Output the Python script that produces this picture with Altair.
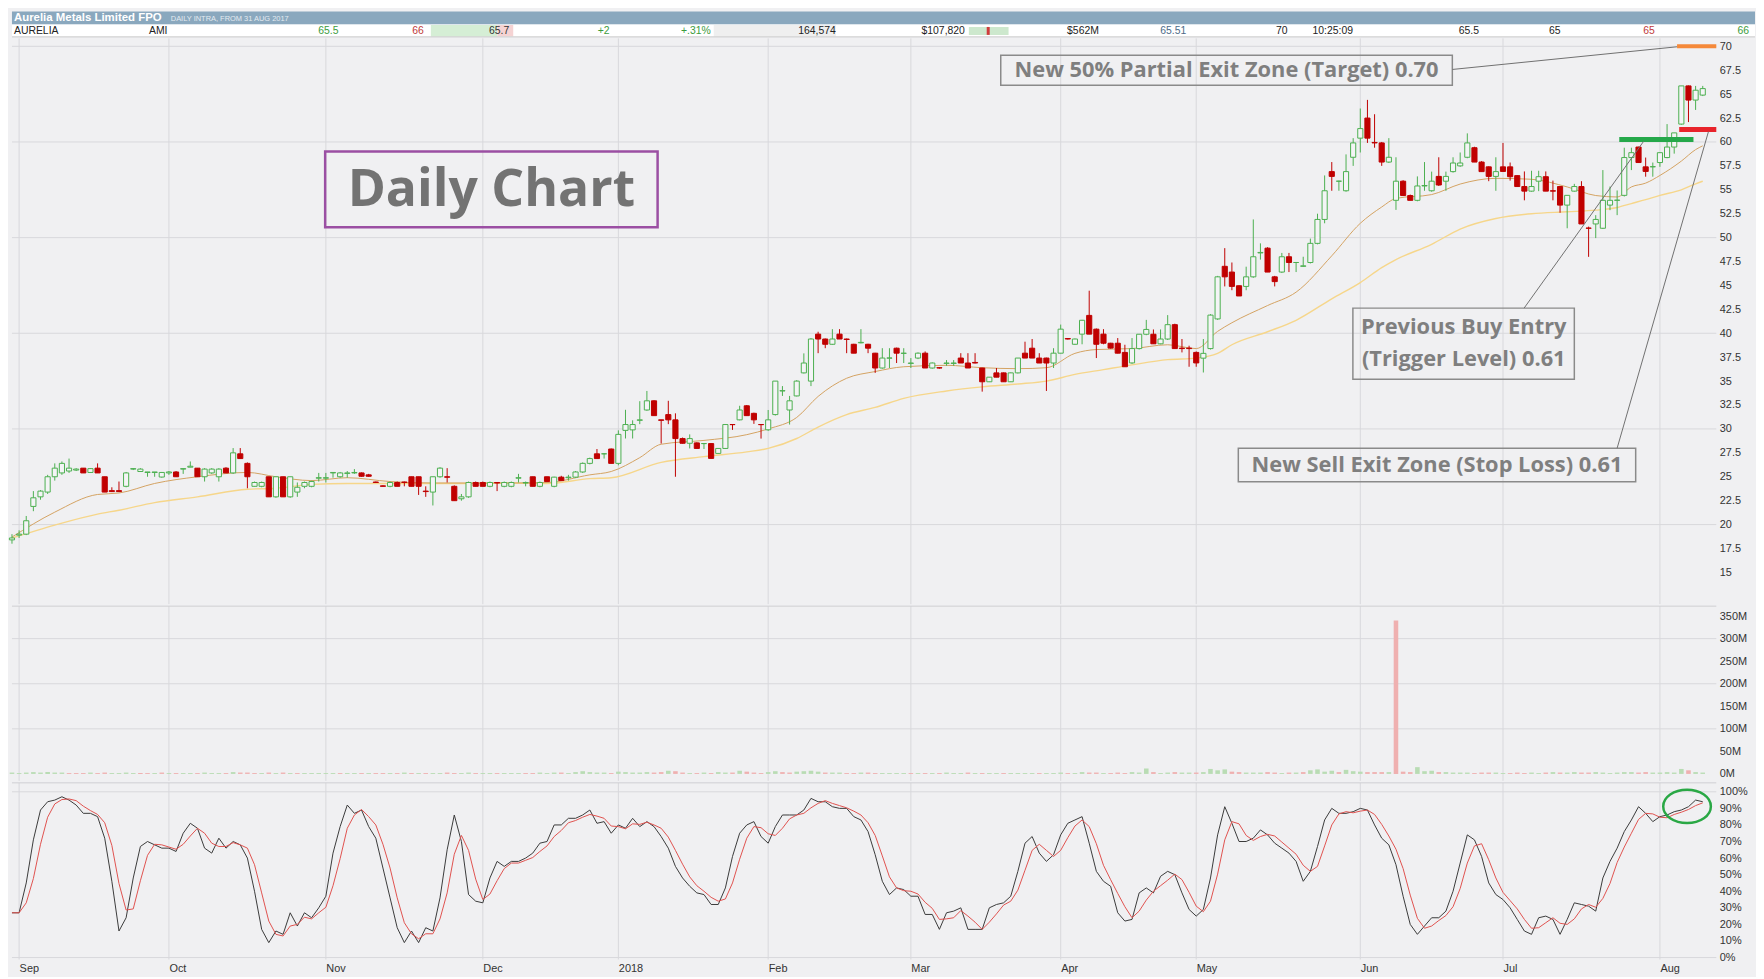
import altair as alt
import pandas as pd

# ------------------------------------------------------------------ data
month_labels = ["Sep", "Oct", "Nov", "Dec", "2018", "Feb", "Mar", "Apr", "May", "Jun", "Jul", "Aug"]
month_start = [1, 22, 44, 66, 85, 106, 126, 147, 166, 189, 209, 231]

# daily candles [open, high, low, close] in cents (first row = 31 Aug 2017)
sep_ohlc = [[18.4,19.0,18.0,18.6],[18.9,19.4,18.6,19.0],[19.0,20.9,18.9,20.4],[21.9,23.5,21.4,22.8],[22.9,23.6,22.6,23.5],
            [23.4,25.2,23.2,25.0],[25.0,26.4,24.6,25.9],[25.4,26.6,25.2,26.4],[25.6,26.9,25.4,25.9],[25.7,25.9,25.6,25.8],
            [25.9,25.9,25.4,25.4],[25.45,25.9,25.4,25.85],[25.9,26.4,25.4,25.4],[25.0,25.0,23.4,23.4],[23.55,23.9,23.4,23.45],
            [23.55,24.5,23.4,23.45],[24.0,25.5,23.9,25.4],[25.8,25.9,25.7,25.85],[25.55,25.9,25.5,25.8],[25.45,25.5,25.0,25.5],
            [25.45,25.5,25.0,25.5],[24.97,25.5,24.9,25.45]]
oct_ohlc = [[25.4,25.6,25.2,25.5],[25.5,25.6,25.0,25.0],[25.8,25.85,25.3,25.85],[26.0,26.6,26.0,26.1],[25.9,25.9,25.0,25.0],
            [25.0,25.9,24.5,25.8],[25.4,25.9,25.3,25.8],[25.0,25.9,24.5,25.8],[25.9,26.0,25.4,25.4],[25.4,28.0,25.3,27.5],
            [27.4,28.0,26.9,26.9],[26.4,26.5,23.8,25.0],[24.0,24.5,24.0,24.4],[24.0,24.5,23.9,24.4],[25.0,25.0,22.9,22.9],
            [22.9,25.0,22.8,25.0],[25.0,25.0,22.9,22.9],[22.9,25.0,22.8,25.0],[23.4,24.4,22.9,23.9],[24.0,24.5,23.8,24.4],
            [24.0,24.6,23.9,24.5],[24.85,25.4,24.5,24.9]]
nov_ohlc = [[24.85,25.4,24.4,24.9],[25.4,25.45,24.9,25.45],[25.0,25.5,24.9,25.4],[25.35,25.6,24.9,25.4],[25.4,25.8,25.3,25.45],
            [25.4,25.45,25.0,25.05],[25.2,25.3,25.0,25.05],[24.45,24.5,24.4,24.4],[24.05,24.1,24.0,24.0],[24.0,24.5,23.9,24.4],
            [24.4,24.5,24.0,24.0],[24.45,24.5,24.0,24.4],[25.0,25.0,24.0,24.0],[25.0,25.0,23.1,24.0],[23.5,24.0,22.9,23.45],
            [23.4,25.0,22.0,25.0],[25.0,26.0,24.9,25.9],[25.0,25.9,24.4,24.95],[24.0,24.1,22.5,22.5],[22.7,23.2,22.5,22.9],
            [22.9,24.5,22.8,24.4],[24.4,24.5,24.0,24.0]]
dec_ohlc = [[24.4,24.5,24.0,24.0],[24.0,24.5,23.9,24.4],[24.4,24.45,23.5,24.35],[24.0,24.5,23.9,24.4],[24.0,24.5,23.9,24.4],
            [24.85,25.3,24.4,24.9],[24.35,24.5,24.0,24.4],[25.0,25.0,24.0,24.0],[24.0,24.5,23.9,24.4],[25.0,25.0,24.5,24.5],
            [24.0,25.0,23.9,24.96],[24.96,25.1,24.6,24.6],[24.9,25.2,24.6,24.96],[24.96,25.6,24.9,25.5],[25.5,26.5,25.4,26.4],
            [26.4,27.0,26.3,26.9],[27.4,27.9,26.9,26.9],[27.4,27.45,26.9,27.4],[27.9,27.95,26.4,26.4]]
jan_ohlc = [[26.4,29.85,26.2,29.43],[29.85,32.0,29.0,30.46],[29.9,30.9,29.0,30.46],[30.9,32.9,30.5,30.95],[31.98,33.97,31.9,32.94],
            [32.94,33.0,31.39,31.39],[30.95,30.95,28.47,30.9],[31.5,32.94,30.5,30.95],[30.95,31.63,25.0,28.99],[28.99,29.1,28.47,28.5],
            [28.5,29.43,27.96,28.99],[28.54,28.6,27.96,27.96],[28.47,28.5,27.9,28.47],[28.47,28.5,26.92,26.92],[27.44,28.0,27.4,27.96],
            [27.96,30.5,27.9,30.46],[30.46,30.5,29.9,30.45],[30.95,32.42,30.9,31.98],[32.42,32.5,31.39,31.39],[31.63,31.7,30.53,30.95],
            [30.46,30.5,28.99,30.45]]
feb_ohlc = [[29.91,31.98,29.8,30.95],[31.5,35.0,31.4,35.0],[33.97,34.48,33.45,34.0],[31.98,33.45,30.46,32.94],[33.45,35.1,33.4,35.0],
            [35.86,37.9,35.8,36.89],[35.0,39.5,34.48,39.4],[39.91,40.16,37.92,39.4],[39.4,39.45,38.44,38.85],[38.85,40.43,38.8,39.4],
            [39.91,40.43,39.4,39.4],[39.4,39.45,37.92,39.35],[38.85,38.9,37.92,37.92],[39.0,40.43,38.95,39.05],[38.85,38.9,37.92,38.44],
            [37.92,37.95,35.86,36.37],[36.37,38.44,36.3,37.41],[37.4,38.44,36.37,37.42],[38.44,38.5,36.89,37.92],[37.9,38.44,36.89,37.92]]
mar_ohlc = [[36.85,37.41,36.37,36.89],[37.41,38.0,37.3,37.92],[37.92,38.1,36.37,36.37],[36.37,36.95,36.3,36.89],[36.4,36.45,36.3,36.37],
            [36.85,37.2,36.6,36.89],[36.85,37.2,36.6,36.89],[37.41,37.92,36.89,36.89],[36.89,37.92,36.37,36.37],[36.95,37.92,36.85,36.89],
            [36.37,36.4,33.9,34.93],[34.93,35.41,34.9,35.41],[35.86,36.37,35.41,35.41],[35.86,35.9,34.93,34.93],[34.93,35.9,34.9,35.86],
            [35.86,37.41,35.8,37.41],[37.92,39.12,37.41,37.41],[38.44,39.4,37.41,37.41],[37.41,37.92,36.89,36.89],[37.41,37.45,33.97,36.89],
            [36.89,38.44,36.37,37.92]]
apr_ohlc = [[37.92,40.91,37.9,40.43],[39.45,39.5,39.35,39.4],[38.85,39.45,38.8,39.4],[39.91,41.4,38.85,41.36],[41.87,44.45,39.91,39.91],
            [40.43,40.5,37.41,38.85],[39.91,40.43,38.85,38.96],[38.96,39.0,38.4,38.45],[38.96,39.5,37.9,37.92],[38.0,38.8,36.5,36.5],
            [36.9,39.5,36.8,38.4],[38.4,39.9,38.3,39.9],[39.9,41.4,39.8,40.4],[39.9,40.4,38.9,38.9],[38.9,40.4,38.85,39.4],
            [39.4,41.9,39.3,40.9],[40.9,41.0,38.4,38.4],[38.45,39.4,38.0,38.4],[38.45,38.7,36.5,38.4]]
may_ohlc = [[38.0,38.1,36.5,36.9],[37.4,39.4,35.9,37.9],[38.4,42.0,38.3,41.9],[41.5,46.0,41.4,45.9],[47.0,48.9,44.9,45.9],
            [46.4,47.4,44.5,44.9],[44.97,45.0,43.9,43.9],[44.9,46.96,44.5,45.9],[45.9,51.9,45.8,48.0],[48.4,49.4,47.7,48.45],
            [48.9,49.0,46.4,46.4],[45.9,46.0,44.9,45.4],[46.4,48.4,46.3,48.0],[48.0,48.4,46.4,47.4],[47.4,47.45,46.4,47.4],
            [47.0,48.0,46.95,47.05],[47.4,49.9,47.3,49.4],[49.4,52.5,49.3,51.9],[51.9,56.5,51.5,54.9],[56.9,57.9,54.9,56.4],
            [55.9,55.95,54.9,55.9],[54.9,58.7,54.8,56.9],[58.4,60.4,57.5,59.9]]
jun_ohlc = [[60.4,63.5,58.9,61.4],[62.5,64.4,59.9,60.4],[59.95,62.9,59.4,59.9],[59.9,60.0,57.5,57.9],[57.9,60.4,57.8,58.4],
            [53.9,58.4,52.9,55.9],[55.9,56.0,54.4,54.4],[54.4,54.5,53.9,53.9],[53.9,56.4,53.8,55.4],[55.4,57.9,54.9,55.45],
            [54.9,56.9,54.8,55.9],[56.4,58.4,55.4,55.5],[55.9,56.9,54.9,56.4],[56.9,58.4,56.8,57.8],[57.5,58.9,57.4,57.8],
            [58.4,60.9,58.3,59.9],[59.4,59.5,57.9,57.9],[57.9,58.0,56.9,56.9],[57.4,57.45,55.9,56.4],[56.4,58.4,54.9,56.9]]
jul_ohlc = [[57.4,59.9,56.9,56.92],[57.4,57.85,55.96,56.37],[56.48,56.5,55.34,55.34],[55.34,56.92,53.9,54.86],[54.86,56.99,54.8,55.34],
            [55.9,56.99,54.86,56.37],[56.37,56.92,54.86,54.86],[54.9,55.96,53.9,54.86],[55.34,55.4,52.6,53.4],[53.4,54.42,50.98,54.42],
            [54.86,55.62,54.8,55.34],[55.34,55.9,51.43,51.43],[51.0,51.15,47.99,50.98],[51.43,52.35,49.95,51.9],[50.98,57.06,50.9,53.9],
            [53.4,55.34,52.87,53.9],[53.9,54.93,52.35,53.92],[54.42,59.4,54.3,58.37],[58.37,59.4,57.06,58.88],[59.47,59.5,57.85,57.85],
            [57.4,58.37,56.37,56.92],[57.4,57.85,56.37,57.42]]
aug_ohlc = [[57.85,58.9,57.4,58.88],[58.37,61.87,58.3,59.47],[59.47,60.95,58.78,60.95],[61.87,65.86,61.8,65.86],[65.86,65.9,62.08,64.38],
            [64.38,65.86,63.35,65.41],[64.9,65.86,64.8,65.58]]

# daily volume, millions of shares
sep_vol = [3,2,3,4,3,4,3,3,2,2,2,3,2,3,2,2,3,2,2,2,2,3]
oct_vol = [2,2,2,2,2,3,2,2,2,4,3,3,2,2,3,2,3,2,2,2,2,2]
nov_vol = [2,2,2,2,2,2,2,2,2,2,2,3,2,2,2,2,2,3,2,2,3,2]
dec_vol = [2,2,2,2,2,2,2,2,3,2,3,3,2,4,6,4,3,3,2]
jan_vol = [5,4,3,3,4,3,4,7,6,3,2,2,3,2,4,3,3,7,5,3,2]
feb_vol = [4,6,4,3,5,6,7,5,3,3,3,2,2,3,3,2,2,2,2,2]
mar_vol = [2,2,2,2,2,3,2,2,3,2,2,2,2,2,2,2,2,2,2,2,2]
apr_vol = [3,2,2,4,3,3,2,2,3,2,4,3,12,4,2,3,4,3,3]
may_vol = [3,4,11,8,10,5,4,3,3,3,4,3,2,3,3,4,8,10,5,7,4,9,6]
jun_vol = [5,4,4,4,4,340,5,4,15,6,7,4,4,3,3,3,2,3,3,3]
jul_vol = [2,2,3,2,3,2,3,4,3,3,4,3,3,4,3,2,3,4,4,3,4,3]
aug_vol = [3,4,3,11,8,4,3]

# stochastic %K (percent)
sep_k = [27,27,45,71,89,94,95,97,95,92,87,87,85,72,46,16,24,48,67,70,68,66]
oct_k = [66,64,75,81,78,66,63,72,66,70,68,60,40,17,9,16,14,27,19,27,24,30]
nov_k = [37,63,79,92,87,89,79,72,54,36,18,9,16,9,18,16,36,65,86,70,38,34]
dec_k = [33,48,58,55,58,58,60,63,69,70,80,80,84,84,86,89,81,82,75]
jan_k = [80,78,84,79,82,79,73,66,55,48,43,39,38,32,32,42,61,75,80,82,73]
feb_k = [69,79,86,86,86,89,96,94,94,91,90,90,85,83,76,62,46,38,42,41]
mar_k = [37,37,26,26,17,27,28,30,17,17,17,30,32,33,37,52,69,73,63,58,62]
apr_k = [74,81,83,85,69,52,46,43,27,22,23,39,42,39,49,52,50,39,29]
may_k = [25,29,48,74,91,81,70,70,72,77,74,69,66,63,58,46,52,67,83,90,87,87,88]
jun_k = [90,89,80,72,68,56,37,20,14,19,24,24,28,40,57,74,71,61,45,38]
jul_k = [35,30,23,16,14,24,25,23,14,23,33,32,31,28,48,58,66,76,83,91,87,82]
aug_k = [85,86,88,89,91,95,94]

# moving averages (day index, value)
fast_idx = [0,6,12,15,20,26,33,37,42,47,53,59,64,70,75,81,84,88,91,97,103,106,110,113,117,121,125,131,136,141,145,
            149,152,157,162,166,169,171,176,180,185,189,192,194,199,203,208,213,218,222,225,227,229,231,234,236,237]
fast_val = [18.7,21.3,23.15,23.3,24.3,25.0,25.45,25.0,24.6,24.9,24.5,24.35,24.35,24.35,24.4,25.2,25.55,27.0,28.4,28.8,
            29.4,30.0,31.2,33.4,35.3,36.0,36.5,36.65,36.4,36.3,36.4,37.9,38.3,38.4,38.8,38.4,40.2,41.1,42.9,44.3,48.1,
            51.5,53.2,54.1,54.5,55.6,56.2,56.1,55.3,54.4,54.25,55.3,55.7,56.5,58.0,59.2,59.6]
slow_idx = [0,6,12,15,20,26,33,37,42,47,53,59,64,70,75,81,84,91,97,103,106,110,113,117,121,125,131,136,141,145,
            149,153,157,162,166,169,171,176,180,185,189,192,194,199,203,208,213,218,222,225,227,229,231,234,236,237]
slow_val = [18.6,19.95,21.1,21.5,22.3,22.9,23.7,23.8,24.2,24.3,24.3,24.3,24.3,24.35,24.3,24.8,24.9,26.5,27.1,27.6,
            27.96,29.0,30.2,31.5,32.25,33.2,33.97,34.4,34.7,35.0,35.7,36.2,36.7,37.24,37.4,37.9,38.8,40.16,41.36,43.6,
            45.3,46.86,47.7,49.3,50.9,52.0,52.5,52.7,52.87,53.15,53.56,53.97,54.42,55.0,55.62,55.9]

# trade levels drawn on the chart
level_name = ["Target", "Stop", "Trigger"]
level_price = [70.0, 61.3, 60.26]
level_from = [233.4, 233.7, 225.3]
level_to = [238.9, 238.9, 235.7]

# tick labels
price_ticks = [15, 17.5, 20, 22.5, 25, 27.5, 30, 32.5, 35, 37.5, 40, 42.5, 45, 47.5, 50, 52.5, 55, 57.5, 60, 62.5, 65, 67.5, 70]
price_grid = [20, 30, 40, 50, 60, 70]
vol_ticks = [0, 50, 100, 150, 200, 250, 300, 350]
vol_grid = [100, 200, 300]
sto_ticks = [0, 10, 20, 30, 40, 50, 60, 70, 80, 90, 100]
sto_grid = [0, 100]

# header strip texts
hdr_title = "Aurelia Metals Limited FPO"
hdr_sub = "DAILY INTRA, FROM 31 AUG 2017"
hdr_left = ["AURELIA", "AMI"]
hdr_right = ["65.5", "66", "65.7", "+2", "+.31%", "164,574", "$107,820", "$562M", "65.51", "70", "10:25:09",
             "65.5", "65", "65", "66"]

# ------------------------------------------------------------------ layout / styles
W = 1717
HW = 1756
H_HDR, H_PRICE, H_VOL, H_STO = 26, 570, 176, 178
BG = "#f0f0f2"
GRID = "#d8d8dc"
GREEN = "#4caf50"
RED = "#c00000"
HOLLOW = "#f4f4f6"
AXF = "Liberation Sans"
ANF = "Open Sans"
ANC = "#7f7f7f"

XDOM = [0, 238.9]
xs = alt.Scale(domain=XDOM, nice=False, zero=False)
ys_price = alt.Scale(domain=[11.68, 70.83], nice=False, zero=False)
ys_vol = alt.Scale(domain=[-15.4, 372], nice=False, zero=False)
ys_sto = alt.Scale(domain=[-1.2, 105.4], nice=False, zero=False)


def right_axis(values, expr):
    return alt.Axis(orient="right", values=values, labelExpr=expr, grid=False, ticks=False, domain=False,
                    title=None, labelFont=AXF, labelFontSize=11, labelColor="#333333", labelPadding=3,
                    labelOverlap=False, labelFlush=False)


AX_P = right_axis(price_ticks, "'' + datum.value")
AX_V = right_axis(vol_ticks, "datum.value + 'M'")
AX_S = right_axis(sto_ticks, "datum.value + '%'")
x_expr = ("[" + ",".join(f"'{m}'" for m in month_labels) + "][indexof([" +
          ",".join(str(v) for v in month_start) + "], datum.value)]")
AX_X = alt.Axis(orient="bottom", values=month_start, labelExpr=x_expr, grid=False, ticks=False, domain=False,
                title=None, labelAlign="left", labelPadding=3, labelFont=AXF, labelFontSize=11,
                labelColor="#333333", labelOverlap=False, labelFlush=False)

# ------------------------------------------------------------------ frame
ohlc = (sep_ohlc + oct_ohlc + nov_ohlc + dec_ohlc + jan_ohlc + feb_ohlc + mar_ohlc + apr_ohlc + may_ohlc
        + jun_ohlc + jul_ohlc + aug_ohlc)
vols = sep_vol + oct_vol + nov_vol + dec_vol + jan_vol + feb_vol + mar_vol + apr_vol + may_vol + jun_vol + jul_vol + aug_vol
ks = sep_k + oct_k + nov_k + dec_k + jan_k + feb_k + mar_k + apr_k + may_k + jun_k + jul_k + aug_k

candles = pd.DataFrame(ohlc, columns=["o", "h", "l", "c"])
candles["i"] = range(len(candles))
candles["vol"] = vols
candles["k"] = ks

month_df = pd.DataFrame({"m": month_start})

# ------------------------------------------------------------------ header strip
cells = pd.DataFrame({
    "x0": [0, 0, 422, 489, 707, 964, 982],
    "x1": [HW, HW, 489, 505, 830, 1004, 985],
    "y0": [0, 13, 13.5, 13.5, 13.5, 15.5, 15.5],
    "y1": [13, 25.5, 25, 25, 25, 23.5, 23.5],
    "col": ["#8aa8be", "#ffffff", "#d5eed5", "#f5d3d3", "#efefef", "#cde8cd", "#d03c3c"],
})
hx = alt.Scale(domain=[0, HW], nice=False, zero=False)
hy = alt.Scale(domain=[0, H_HDR], nice=False, zero=False, reverse=True)
h_cells = alt.Chart(cells).mark_rect().encode(
    x=alt.X("x0:Q", scale=hx, axis=None), x2="x1:Q",
    y=alt.Y("y0:Q", scale=hy, axis=None), y2="y1:Q",
    color=alt.Color("col:N", scale=None))
h_line = alt.Chart(pd.DataFrame({"y": [25.5]})).mark_rule(color="#c8c8c8").encode(
    y=alt.Y("y:Q", scale=hy, axis=None))
h_title = alt.Chart(pd.DataFrame({"t": [hdr_title], "x": [2], "y": [6.5]})).mark_text(
    align="left", baseline="middle", font=AXF, fontSize=11.5, fontWeight="bold", color="#ffffff").encode(
    x=alt.X("x:Q", scale=hx, axis=None), y=alt.Y("y:Q", scale=hy, axis=None), text="t:N")
h_sub = alt.Chart(pd.DataFrame({"t": [hdr_sub], "x": [160], "y": [7]})).mark_text(
    align="left", baseline="middle", font=AXF, fontSize=7.5, color="#e4ebf1").encode(
    x=alt.X("x:Q", scale=hx, axis=None), y=alt.Y("y:Q", scale=hy, axis=None), text="t:N")
h_left = alt.Chart(pd.DataFrame({"t": hdr_left, "x": [2, 138], "y": [19.5, 19.5]})).mark_text(
    align="left", baseline="middle", font=AXF, fontSize=10.5, color="#222222").encode(
    x=alt.X("x:Q", scale=hx, axis=None), y=alt.Y("y:Q", scale=hy, axis=None), text="t:N")
h_right = alt.Chart(pd.DataFrame({
    "t": hdr_right,
    "x": [329, 415, 501, 602, 704, 830, 960, 1095, 1183, 1285, 1351, 1478, 1560, 1655, 1750],
    "y": [19.5] * len(hdr_right),
    "col": ["#3c9c3c", "#c03a3a", "#333333", "#3c9c3c", "#3c9c3c", "#222222", "#222222", "#222222",
            "#4d6b88", "#222222", "#222222", "#222222", "#222222", "#c03a3a", "#3c9c3c"],
})).mark_text(align="right", baseline="middle", font=AXF, fontSize=10.5).encode(
    x=alt.X("x:Q", scale=hx, axis=None), y=alt.Y("y:Q", scale=hy, axis=None), text="t:N",
    color=alt.Color("col:N", scale=None))
header = alt.layer(h_cells, h_line, h_title, h_sub, h_left, h_right).properties(width=HW, height=H_HDR)

# ------------------------------------------------------------------ price panel
cbase = alt.Chart(candles).transform_calculate(
    col=f"datum.c >= datum.o ? '{GREEN}' : '{RED}'",
    fillc=f"datum.c >= datum.o ? '{HOLLOW}' : '{RED}'",
    x0="datum.i - 0.36", x1="datum.i + 0.36")

p_vgrid = alt.Chart(month_df).mark_rule(color=GRID).encode(x=alt.X("m:Q", scale=xs, axis=None))
p_hgrid = alt.Chart(pd.DataFrame({"g": price_grid})).mark_rule(color=GRID).encode(
    y=alt.Y("g:Q", scale=ys_price, axis=AX_P))
p_slow = alt.Chart(pd.DataFrame({"i": slow_idx, "v": slow_val})).mark_line(
    color="#f6d68a", strokeWidth=1.4, interpolate="monotone").encode(
    x=alt.X("i:Q", scale=xs, axis=None), y=alt.Y("v:Q", scale=ys_price, axis=AX_P))
p_fast = alt.Chart(pd.DataFrame({"i": fast_idx, "v": fast_val})).mark_line(
    color="#d4a262", strokeWidth=1, interpolate="monotone").encode(
    x=alt.X("i:Q", scale=xs, axis=None), y=alt.Y("v:Q", scale=ys_price, axis=AX_P))
p_wick = cbase.mark_rule(strokeWidth=1).encode(
    x=alt.X("i:Q", scale=xs, axis=None),
    y=alt.Y("l:Q", scale=ys_price, axis=AX_P), y2="h:Q",
    color=alt.Color("col:N", scale=None))
p_body = cbase.mark_rect(strokeWidth=1).encode(
    x=alt.X("x0:Q", scale=xs, axis=None), x2="x1:Q",
    y=alt.Y("o:Q", scale=ys_price, axis=AX_P), y2="c:Q",
    fill=alt.Fill("fillc:N", scale=None), stroke=alt.Stroke("col:N", scale=None))

levels = pd.DataFrame({"name": level_name, "p": level_price, "a": level_from, "b": level_to,
                       "col": ["#f5893a", "#e8232b", "#25a84a"], "w": [4, 5, 5]})
p_levels = alt.Chart(levels).mark_rule(strokeCap="butt").encode(
    x=alt.X("a:Q", scale=xs, axis=None), x2="b:Q",
    y=alt.Y("p:Q", scale=ys_price, axis=AX_P),
    color=alt.Color("col:N", scale=None), size=alt.Size("w:Q", scale=None))

boxes = pd.DataFrame({
    "x0": [138.6, 43.9, 187.96, 171.9], "x1": [201.9, 90.5, 219.0, 227.6],
    "y0": [65.93, 51.08, 35.2, 24.48], "y1": [69.07, 59.0, 42.63, 27.99],
    "col": ["#8a8a8a", "#9b4fa3", "#8a8a8a", "#8a8a8a"], "sw": [1.5, 2.5, 1.5, 1.5],
})
p_boxes = alt.Chart(boxes).mark_rect(fillOpacity=0).encode(
    x=alt.X("x0:Q", scale=xs, axis=None), x2="x1:Q",
    y=alt.Y("y0:Q", scale=ys_price, axis=AX_P), y2="y1:Q",
    stroke=alt.Stroke("col:N", scale=None), strokeWidth=alt.StrokeWidth("sw:Q", scale=None))
links = pd.DataFrame({"xa": [201.9, 211.96, 225.0], "ya": [67.58, 42.63, 27.99],
                      "xb": [233.4, 228.7, 237.8], "yb": [69.95, 60.05, 61.08]})
p_links = alt.Chart(links).mark_rule(color="#707070", strokeWidth=1).encode(
    x=alt.X("xa:Q", scale=xs, axis=None), y=alt.Y("ya:Q", scale=ys_price, axis=AX_P),
    x2="xb:Q", y2="yb:Q")
notes = pd.DataFrame({
    "t": ["New 50% Partial Exit Zone (Target) 0.70", "Previous Buy Entry", "(Trigger Level) 0.61",
          "New Sell Exit Zone (Stop Loss) 0.61"],
    "x": [170.25, 203.5, 203.5, 199.75], "y": [67.5, 40.67, 37.27, 26.24]})
p_notes = alt.Chart(notes).mark_text(font=ANF, fontSize=22, fontWeight="bold", color=ANC,
                                     baseline="middle").encode(
    x=alt.X("x:Q", scale=xs, axis=None), y=alt.Y("y:Q", scale=ys_price, axis=AX_P), text="t:N")
p_daily = alt.Chart(pd.DataFrame({"t": ["Daily Chart"], "x": [67.2], "y": [55.0]})).mark_text(
    font=ANF, fontSize=52, fontWeight="bold", color="#737373", baseline="middle").encode(
    x=alt.X("x:Q", scale=xs, axis=None), y=alt.Y("y:Q", scale=ys_price, axis=AX_P), text="t:N")

price = alt.layer(p_vgrid, p_hgrid, p_slow, p_fast, p_wick, p_body, p_levels, p_boxes, p_links,
                  p_notes, p_daily).properties(width=W, height=H_PRICE)

# ------------------------------------------------------------------ volume panel
v_sep = alt.Chart(pd.DataFrame({"g": [372]})).mark_rule(color="#cfcfd3").encode(
    y=alt.Y("g:Q", scale=ys_vol, axis=AX_V))
v_vgrid = alt.Chart(month_df).mark_rule(color=GRID).encode(x=alt.X("m:Q", scale=xs, axis=None))
v_hgrid = alt.Chart(pd.DataFrame({"g": vol_grid})).mark_rule(color=GRID).encode(
    y=alt.Y("g:Q", scale=ys_vol, axis=AX_V))
v_bars = alt.Chart(candles).transform_window(
    window=[alt.WindowFieldDef(**{"op": "lag", "field": "c", "as": "pc"})],
    sort=[alt.SortField(field="i")],
).transform_calculate(
    vcol="datum.pc == null || datum.c >= datum.pc ? '#b9dcb4' : '#efb0b0'",
    x0="datum.i - 0.32", x1="datum.i + 0.32", z="0",
).mark_rect().encode(
    x=alt.X("x0:Q", scale=xs, axis=None), x2="x1:Q",
    y=alt.Y("vol:Q", scale=ys_vol, axis=AX_V), y2="z:Q",
    color=alt.Color("vcol:N", scale=None))
volume = alt.layer(v_vgrid, v_hgrid, v_bars, v_sep).properties(width=W, height=H_VOL)

# ------------------------------------------------------------------ stochastic panel
s_sep = alt.Chart(pd.DataFrame({"g": [105.4]})).mark_rule(color="#cfcfd3").encode(
    y=alt.Y("g:Q", scale=ys_sto, axis=AX_S))
s_vgrid = alt.Chart(month_df).mark_rule(color=GRID).encode(x=alt.X("m:Q", scale=xs, axis=AX_X))
s_hgrid = alt.Chart(pd.DataFrame({"g": sto_grid})).mark_rule(color=GRID).encode(
    y=alt.Y("g:Q", scale=ys_sto, axis=AX_S))
s_k = alt.Chart(candles).mark_line(color="#3a3a3a", strokeWidth=1).encode(
    x=alt.X("i:Q", scale=xs, axis=AX_X), y=alt.Y("k:Q", scale=ys_sto, axis=AX_S))
s_d = alt.Chart(candles).transform_window(
    window=[alt.WindowFieldDef(**{"op": "mean", "field": "k", "as": "d"})],
    frame=[-2, 0], sort=[alt.SortField(field="i")],
).mark_line(color="#e0524f", strokeWidth=1).encode(
    x=alt.X("i:Q", scale=xs, axis=AX_X), y=alt.Y("d:Q", scale=ys_sto, axis=AX_S))
ELLIPSE = "M -1 0 A 1 0.7 0 1 1 1 0 A 1 0.7 0 1 1 -1 0 Z"
s_ring = alt.Chart(pd.DataFrame({"i": [234.8], "s": [91.2]})).mark_point(
    shape=ELLIPSE, size=2304, filled=False, stroke="#2aa845", strokeWidth=2.5, opacity=1).encode(
    x=alt.X("i:Q", scale=xs, axis=AX_X), y=alt.Y("s:Q", scale=ys_sto, axis=AX_S))
stoch = alt.layer(s_vgrid, s_hgrid, s_k, s_d, s_ring, s_sep).properties(width=W, height=H_STO)

chart = alt.vconcat(header, price, volume, stoch, spacing=0, padding=0, background=BG).configure_view(
    stroke=None)

chart.save("out.html", embed_options={"renderer": "svg", "actions": False})
